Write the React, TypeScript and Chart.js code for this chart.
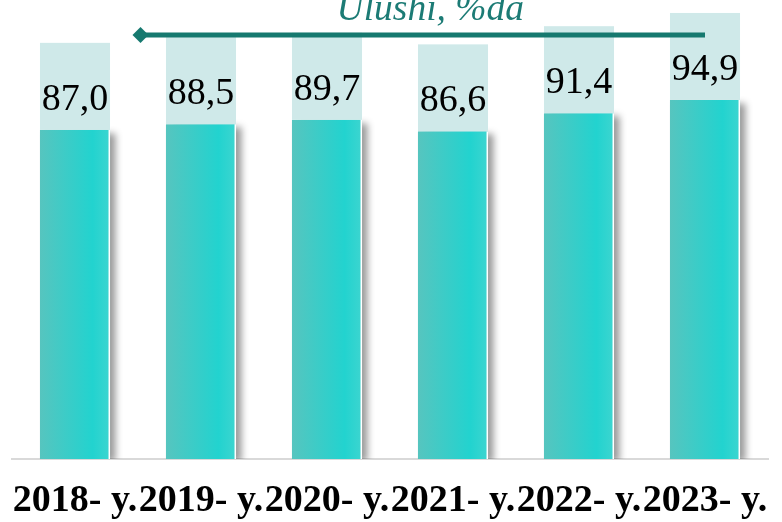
import React, { useEffect, useRef } from "react";
import { Chart, registerables } from "chart.js";

Chart.register(...registerables);

const categories = ["2018- y.", "2019- y.", "2020- y.", "2021- y.", "2022- y.", "2023- y."];
const shareValues = [87.0, 88.5, 89.7, 86.6, 91.4, 94.9];
const titleText = "Ulushi, %da";

const BAR_PCT = 0.556;
const SERIF = "'Times New Roman', 'Liberation Serif', serif";

const fmt = (v: number) => v.toFixed(1).replace(".", ",");

const decorPlugin = {
  id: "decor",
  beforeDatasetsDraw(chart: any) {
    const ctx = chart.ctx;
    ctx.save();
    ctx.shadowColor = "rgba(0,0,0,0.4)";
    ctx.shadowBlur = 7;
    ctx.shadowOffsetX = 6;
    ctx.shadowOffsetY = 3;
  },
  afterDatasetsDraw(chart: any) {
    const ctx = chart.ctx;
    ctx.restore();
    const meta = chart.getDatasetMeta(0);
    const xs = chart.scales.x;
    const area = chart.chartArea;
    ctx.save();
    meta.data.forEach((el: any, i: number) => {
      const w = el.width;
      const boxH = 87;
      // thin white edge on the right of each bar
      ctx.fillStyle = "#ffffff";
      ctx.fillRect(el.x + w / 2 - 1.5, el.y, 1.5, el.base - el.y);
      ctx.fillStyle = "#cfe9e9";
      ctx.fillRect(el.x - w / 2, el.y - boxH, w, boxH);
      ctx.fillStyle = "#000000";
      ctx.font = `38px ${SERIF}`;
      ctx.textAlign = "center";
      ctx.textBaseline = "alphabetic";
      ctx.fillText(fmt(shareValues[i]), el.x, el.y - 20);
    });
    // arrow
    const yArrow = area.top + 30;
    const xStart = xs.getPixelForValue(categories.length - 1);
    const xHead = xs.getPixelForValue(0.52);
    ctx.strokeStyle = "#16796f";
    ctx.fillStyle = "#16796f";
    ctx.lineWidth = 5;
    ctx.beginPath();
    ctx.moveTo(xStart, yArrow);
    ctx.lineTo(xHead, yArrow);
    ctx.stroke();
    ctx.beginPath();
    ctx.moveTo(xHead - 8, yArrow);
    ctx.lineTo(xHead, yArrow - 8);
    ctx.lineTo(xHead + 8, yArrow);
    ctx.lineTo(xHead, yArrow + 8);
    ctx.closePath();
    ctx.fill();
    // title
    ctx.font = `italic 37.5px ${SERIF}`;
    ctx.fillStyle = "#1c7b75";
    ctx.textAlign = "center";
    ctx.textBaseline = "alphabetic";
    ctx.fillText(titleText, xs.getPixelForValue(2.82), area.top + 15);
    ctx.restore();
  },
};

export default function App() {
  const ref = useRef<HTMLCanvasElement | null>(null);
  useEffect(() => {
    if (!ref.current) return;
    const chart = new Chart(ref.current, {
      type: "bar",
      data: {
        labels: categories,
        datasets: [
          {
            data: shareValues,
            backgroundColor: (c: any) => {
              const chart = c.chart;
              const xs = chart.scales?.x;
              if (!xs || !chart.chartArea || c.dataIndex === undefined) return "#2fcfc9";
              const cx = xs.getPixelForValue(c.dataIndex);
              const w = (xs.width / categories.length) * BAR_PCT;
              const g = chart.ctx.createLinearGradient(cx - w / 2, 0, cx + w / 2, 0);
              g.addColorStop(0, "#56c5bf");
              g.addColorStop(0.75, "#22d3cf");
              g.addColorStop(1, "#3dd5d0");
              return g;
            },
            borderWidth: 0,
            categoryPercentage: 1,
            barPercentage: BAR_PCT,
          },
        ],
      },
      options: {
        responsive: false,
        animation: false,
        layout: { padding: { left: 12, right: 14, top: 5, bottom: 3 } },
        plugins: { legend: { display: false }, tooltip: { enabled: false } },
        scales: {
          x: {
            grid: { display: true, color: "rgba(0,0,0,0)", drawTicks: false },
            border: { display: true, color: "#d9d9d9", width: 2 },
            ticks: {
              color: "#000000",
              font: { family: SERIF, size: 38, weight: "bold", lineHeight: 1 },
              padding: 23,
              autoSkip: false,
              maxRotation: 0,
              minRotation: 0,
            },
            afterFit: (scale: any) => {
              scale.paddingLeft = 0;
              scale.paddingRight = 0;
              scale.height = 60;
            },
          },
          y: { display: false, min: 0, max: 120 },
        },
      },
      plugins: [decorPlugin],
    });
    return () => chart.destroy();
  }, []);
  return (
    <div style={{ position: "fixed", left: 0, top: 0, width: 782, height: 522, background: "#ffffff" }}>
      <canvas ref={ref} width={782} height={522} style={{ display: "block" }} />
    </div>
  );
}
